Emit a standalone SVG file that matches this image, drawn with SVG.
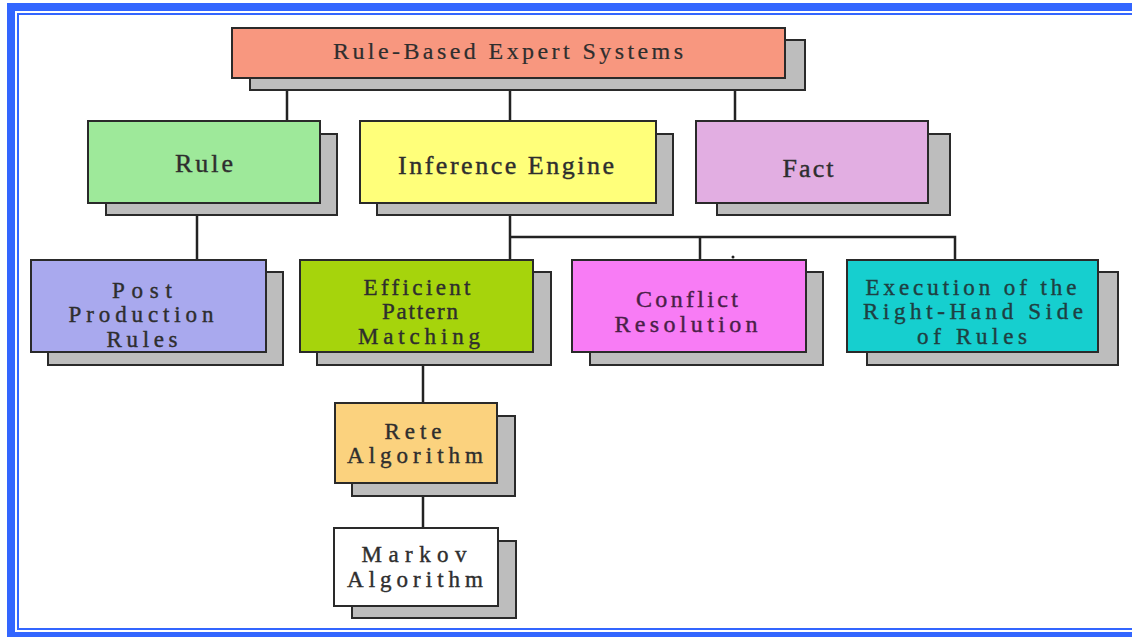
<svg xmlns="http://www.w3.org/2000/svg" width="1132" height="637" viewBox="0 0 1132 637">
  <style>
    .frame { fill: #3366ff; }
    .shadow { fill: #bdbdbd; stroke: #2a2a2a; stroke-width: 2; }
    .box { stroke: #2a2a2a; stroke-width: 2; }
    .lbl { font-family: "Liberation Serif", "Times New Roman", serif; font-size: 26px; fill: #2e2e2e; stroke: #2e2e2e; stroke-width: 0.4; text-anchor: middle; }
    .ml { font-size: 23px; }
    .wire { fill: none; stroke: #222; stroke-width: 2.5; }
  </style>

  <rect width="1132" height="637" fill="#ffffff"/>

  <!-- double blue page frame -->
  <g id="frame">
    <rect class="frame" x="7" y="3" width="1125" height="8"/>
    <rect class="frame" x="7" y="3" width="8" height="634"/>
    <rect class="frame" x="7" y="632" width="1125" height="5"/>
    <rect class="frame" x="17" y="13" width="1115" height="2"/>
    <rect class="frame" x="17" y="13" width="2" height="617"/>
    <rect class="frame" x="17" y="628" width="1115" height="2"/>
  </g>

  <!-- connectors -->
  <g id="connectors">
    <path class="wire" d="M287 90 V121 M510 90 V121 M735 90 V121"/>
    <path class="wire" d="M197 215 V260"/>
    <path class="wire" d="M510 215 V260 M510 237 H955 V260 M700 237 V260"/>
    <path class="wire" d="M423 365 V403"/>
    <path class="wire" d="M423 496 V528"/>
    <circle cx="733" cy="257" r="1.5" fill="#222"/>
  </g>

  <g id="root">
    <rect class="shadow" x="250" y="40" width="555" height="50"/>
    <rect class="box" x="232" y="28" width="553" height="50" fill="#f8977f"/>
    <text class="lbl" x="508" y="59" textLength="350" lengthAdjust="spacing" style="font-size:24px;stroke-width:0.2">Rule-Based Expert Systems</text>
  </g>

  <g id="rule">
    <rect class="shadow" x="106" y="134" width="231" height="81"/>
    <rect class="box" x="88" y="121" width="232" height="82" fill="#9ee99a"/>
    <text class="lbl" x="204" y="172" textLength="58" lengthAdjust="spacing">Rule</text>
  </g>

  <g id="inference-engine">
    <rect class="shadow" x="377" y="134" width="296" height="81"/>
    <rect class="box" x="360" y="121" width="296" height="82" fill="#ffff7a"/>
    <text class="lbl" x="506" y="174" textLength="216" lengthAdjust="spacing">Inference Engine</text>
  </g>

  <g id="fact">
    <rect class="shadow" x="717" y="134" width="233" height="81"/>
    <rect class="box" x="696" y="121" width="232" height="82" fill="#e2aee2"/>
    <text class="lbl" x="808" y="177" textLength="51" lengthAdjust="spacing">Fact</text>
  </g>

  <g id="post-production-rules">
    <rect class="shadow" x="48" y="272" width="235" height="93"/>
    <rect class="box" x="31" y="260" width="235" height="92" fill="#a9a9ee"/>
    <text class="lbl ml" x="142" y="298" textLength="60" lengthAdjust="spacing">Post</text>
    <text class="lbl ml" x="141" y="322" textLength="145" lengthAdjust="spacing">Production</text>
    <text class="lbl ml" x="142" y="347" textLength="71" lengthAdjust="spacing">Rules</text>
  </g>

  <g id="efficient-pattern-matching">
    <rect class="shadow" x="317" y="272" width="234" height="93"/>
    <rect class="box" x="300" y="260" width="233" height="92" fill="#a6d40c"/>
    <text class="lbl ml" x="417" y="295" textLength="107" lengthAdjust="spacing">Efficient</text>
    <text class="lbl ml" x="420" y="319" textLength="76" lengthAdjust="spacing">Pattern</text>
    <text class="lbl ml" x="419" y="344" textLength="122" lengthAdjust="spacing">Matching</text>
  </g>

  <g id="conflict-resolution">
    <rect class="shadow" x="590" y="272" width="233" height="93"/>
    <rect class="box" x="572" y="260" width="234" height="92" fill="#f87cf5"/>
    <text class="lbl" x="687" y="307" textLength="102" lengthAdjust="spacing" style="font-size:24px;fill:#4a1f48;stroke:#4a1f48">Conflict</text>
    <text class="lbl" x="686" y="332" textLength="143" lengthAdjust="spacing" style="font-size:24px;fill:#4a1f48;stroke:#4a1f48">Resolution</text>
  </g>

  <g id="execution-rhs">
    <rect class="shadow" x="867" y="272" width="251" height="93"/>
    <rect class="box" x="847" y="260" width="251" height="92" fill="#16cfcf"/>
    <text class="lbl ml" x="971" y="295" textLength="211" lengthAdjust="spacing" style="fill:#1f3f42;stroke:#1f3f42">Execution of the</text>
    <text class="lbl ml" x="973" y="319" textLength="220" lengthAdjust="spacing" style="fill:#1f3f42;stroke:#1f3f42">Right-Hand Side</text>
    <text class="lbl ml" x="972" y="344" textLength="110" lengthAdjust="spacing" style="fill:#1f3f42;stroke:#1f3f42">of Rules</text>
  </g>

  <g id="rete-algorithm">
    <rect class="shadow" x="352" y="416" width="163" height="80"/>
    <rect class="box" x="335" y="403" width="162" height="80" fill="#fbd27e"/>
    <text class="lbl ml" x="413" y="439" textLength="57" lengthAdjust="spacing">Rete</text>
    <text class="lbl ml" x="415" y="463" textLength="136" lengthAdjust="spacing">Algorithm</text>
  </g>

  <g id="markov-algorithm">
    <rect class="shadow" x="352" y="541" width="164" height="77"/>
    <rect class="box" x="334" y="528" width="164" height="78" fill="#ffffff"/>
    <text class="lbl ml" x="414" y="562" textLength="105" lengthAdjust="spacing">Markov</text>
    <text class="lbl ml" x="415" y="587" textLength="136" lengthAdjust="spacing">Algorithm</text>
  </g>
</svg>
